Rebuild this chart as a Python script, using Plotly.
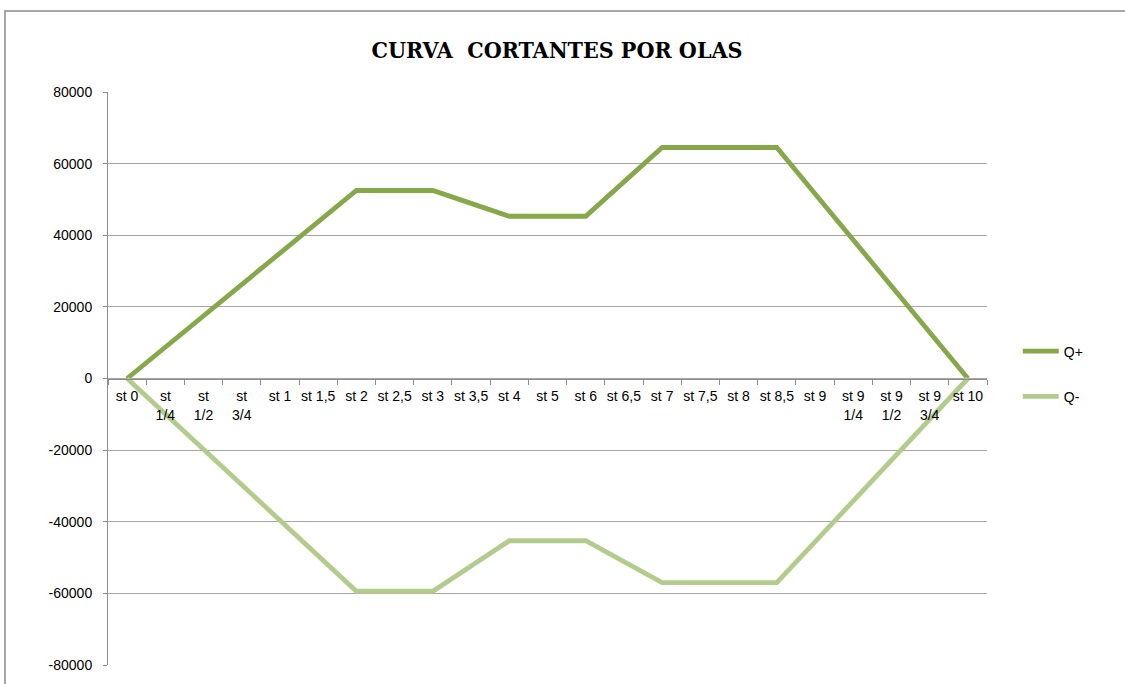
import plotly.graph_objects as go

categories = ["st 0", "st<br>1/4", "st<br>1/2", "st<br>3/4", "st 1", "st 1,5", "st 2", "st 2,5",
              "st 3", "st 3,5", "st 4", "st 5", "st 6", "st 6,5", "st 7", "st 7,5", "st 8",
              "st 8,5", "st 9", "st 9<br>1/4", "st 9<br>1/2", "st 9<br>3/4", "st 10"]
q_plus = [0, 8750, 17500, 26250, 35000, 43750, 52500, 52500, 52500, 48900, 45300, 45300, 45300,
          54900, 64500, 64500, 64500, 64500, 51600, 38700, 25800, 12900, 0]
q_minus = [0, -9900, -19800, -29700, -39600, -49500, -59400, -59400, -59400, -52350, -45300,
           -45300, -45300, -51150, -57000, -57000, -57000, -57000, -45600, -34200, -22800, -11400, 0]
y_ticks = [-80000, -60000, -40000, -20000, 0, 20000, 40000, 60000, 80000]

fig = go.Figure()
fig.add_trace(go.Scatter(x=categories, y=q_plus, mode="lines", name="Q+",
                         line=dict(color="#86A84A", width=4.8), legendgroup="a"))
fig.add_trace(go.Scatter(x=categories, y=q_minus, mode="lines", name="Q-",
                         line=dict(color="#B3CC8E", width=4.8), legendgroup="b"))

fig.update_layout(
    width=1125, height=684,
    paper_bgcolor="white", plot_bgcolor="white",
    margin=dict(l=108, r=138, t=92, b=19),
    title=dict(text="<b>CURVA  CORTANTES POR OLAS</b>", x=557 / 1125, xref="container",
               y=1 - 50 / 684, yref="container", xanchor="center", yanchor="middle",
               font=dict(family="DejaVu Serif Condensed", size=23, color="black")),
    legend=dict(x=1.035, y=0.575, xanchor="left", yanchor="top", itemwidth=36,
                font=dict(family="Liberation Sans", size=14, color="black"),
                tracegroupgap=24, bgcolor="rgba(0,0,0,0)"),
    xaxis=dict(type="category", range=[-0.5, 22.5], anchor="free", position=0.5,
               showline=True, linecolor="#8C8C8C", linewidth=1,
               ticks="outside", tickson="boundaries", ticklen=5, tickcolor="#8C8C8C",
               showgrid=False, tickangle=0, ticklabelstandoff=5,
               tickfont=dict(family="Liberation Sans", size=14, color="black")),
    yaxis=dict(range=[-80000, 80000], tickvals=y_ticks, ticktext=[str(v) for v in y_ticks],
               showline=True, linecolor="#8C8C8C", linewidth=1,
               ticks="outside", ticklen=4, tickcolor="#8C8C8C", ticklabelstandoff=8,
               showgrid=True, gridcolor="#A6A6A6", gridwidth=1, zeroline=False,
               tickfont=dict(family="Liberation Sans", size=14, color="black")),
    shapes=[dict(type="rect", xref="paper", yref="paper",
                 x0=-0.1172, x1=1.3, y0=-0.2, y1=(665 - 11) / 573,
                 line=dict(color="#8C8C8C", width=1.5), fillcolor="rgba(0,0,0,0)", layer="below")],
)

fig.write_html("out.html", config={"displayModeBar": False},
               post_script="document.body.style.margin='0px';")
